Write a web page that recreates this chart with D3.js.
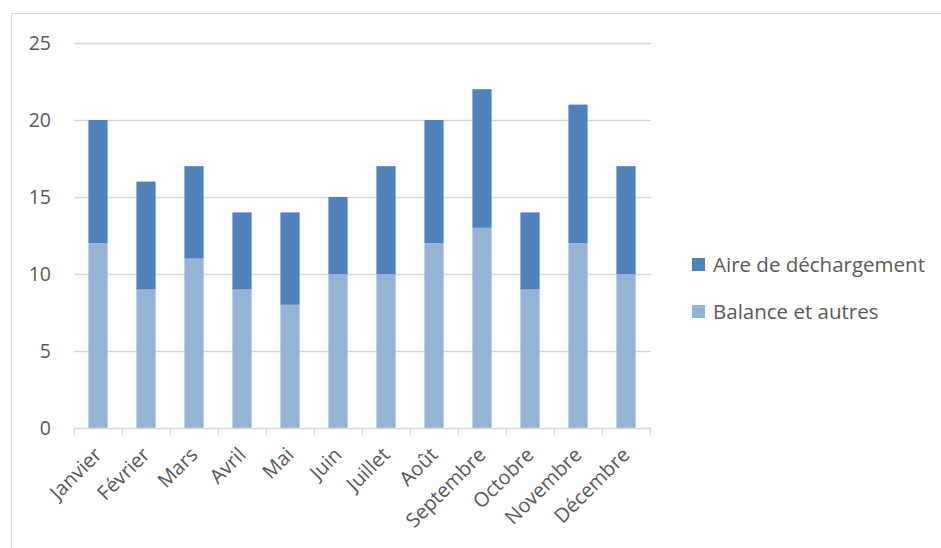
<!DOCTYPE html>
<html><head><meta charset="utf-8">
<script src="https://cdn.jsdelivr.net/npm/d3@7"></script>
<style>body{margin:0;background:#fff}svg{display:block}</style>
</head><body>
<svg id="c" width="941" height="548"></svg>
<script>
const months = ["Janvier","Février","Mars","Avril","Mai","Juin","Juillet","Août","Septembre","Octobre","Novembre","Décembre"];
const balance = [12,9,11,9,8,10,10,12,13,9,12,10];
const aire = [8,7,6,5,6,5,7,8,9,5,9,7];
const yTicks = [0,5,10,15,20,25];
const seriesNames = ["Aire de déchargement","Balance et autres"];
const colors = {"Aire de déchargement":"#4F81BD","Balance et autres":"#95B3D7"};

const svg = d3.select("#c");
const font = "'Open Sans', 'Noto Sans', sans-serif";
svg.append("rect").attr("x",11.5).attr("y",13.5).attr("width",960).attr("height",560)
  .attr("fill","none").attr("stroke","#D9D9D9");

const x = d3.scaleBand().domain(months).range([74,650]).paddingInner(0.6).paddingOuter(0.3);
const y = d3.scaleLinear().domain([0,25]).range([428,43]);

// gridlines
svg.append("g").selectAll("line").data(yTicks.filter(d=>d>0)).join("line")
  .attr("x1",74).attr("x2",651).attr("y1",d=>Math.round(y(d))+0.5).attr("y2",d=>Math.round(y(d))+0.5)
  .attr("stroke","#D9D9D9").attr("stroke-width",1.3);

// y labels
svg.append("g").selectAll("text").data(yTicks).join("text")
  .attr("x",51).attr("y",d=>y(d)).attr("dy","0.35em").attr("text-anchor","end")
  .attr("font-family",font).attr("font-size",19.5).attr("fill","#595959").text(d=>d);

const data = months.map((m,i)=>({m, b:balance[i], a:aire[i]}));
// stacked bars
const g = svg.append("g");
g.selectAll("rect.b").data(data).join("rect").attr("class","b")
  .attr("x",d=>x(d.m)).attr("width",x.bandwidth())
  .attr("y",d=>y(d.b)).attr("height",d=>y(0)-y(d.b)).attr("fill",colors["Balance et autres"]);
g.selectAll("rect.a").data(data).join("rect").attr("class","a")
  .attr("x",d=>x(d.m)).attr("width",x.bandwidth())
  .attr("y",d=>y(d.b+d.a)).attr("height",d=>y(d.b)-y(d.b+d.a)).attr("fill",colors["Aire de déchargement"]);

// x axis
const xb = d3.scaleLinear().domain([0,12]).range([74,650]);
svg.append("line").attr("x1",74).attr("x2",651).attr("y1",428.5).attr("y2",428.5)
  .attr("stroke","#D9D9D9").attr("stroke-width",1.3);
svg.append("g").selectAll("line").data(d3.range(13)).join("line")
  .attr("x1",d=>Math.round(xb(d))+0.5).attr("x2",d=>Math.round(xb(d))+0.5)
  .attr("y1",428).attr("y2",435).attr("stroke","#D9D9D9").attr("stroke-width",1.3);
svg.append("g").selectAll("text").data(months).join("text")
  .attr("transform",m=>`translate(${x(m)+x.bandwidth()/2+5},${456}) rotate(-45)`)
  .attr("text-anchor","end").attr("font-family",font).attr("font-size",20).attr("fill","#595959")
  .text(m=>m);

// legend
const lg = svg.append("g").selectAll("g").data(seriesNames).join("g")
  .attr("transform",(d,i)=>`translate(692,${258+i*47})`);
lg.append("rect").attr("width",13).attr("height",13).attr("fill",d=>colors[d]);
lg.append("text").attr("x",21).attr("y",6.5).attr("dy","0.35em")
  .attr("font-family",font).attr("font-size",20.5).attr("fill","#595959").text(d=>d);
</script>
</body></html>
